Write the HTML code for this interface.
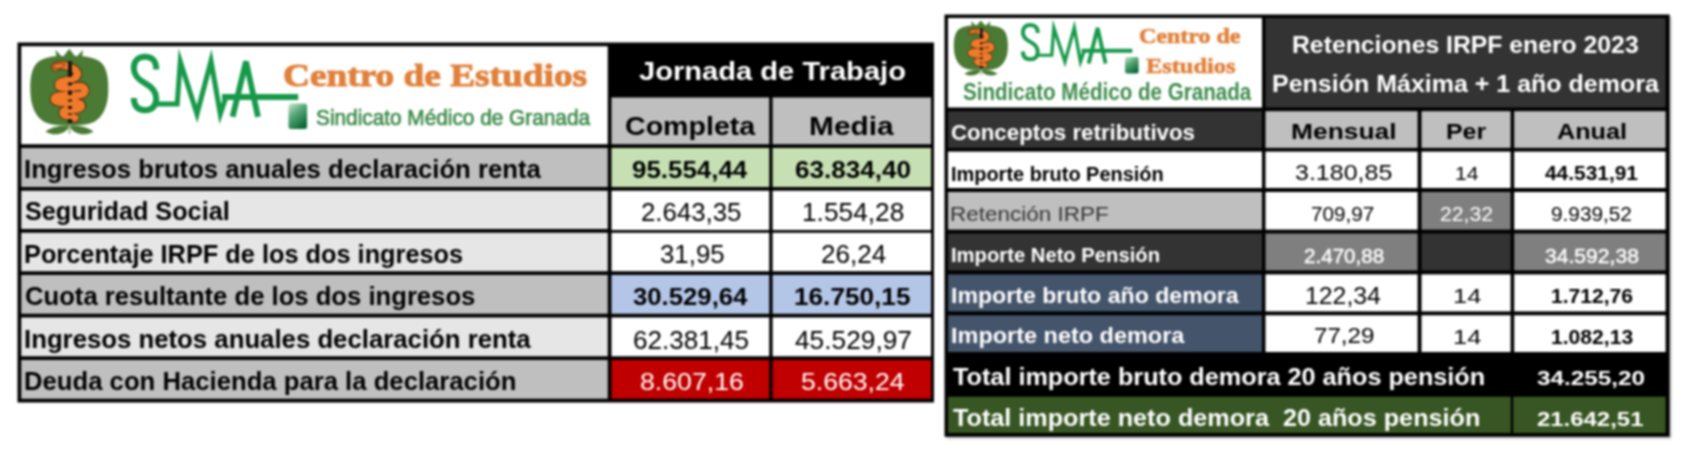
<!DOCTYPE html>
<html lang="es"><head><meta charset="utf-8"><title>Tablas SMA</title>
<style>
html,body{margin:0;padding:0;background:#fff}
body{width:1684px;height:450px;position:relative;overflow:hidden;font-family:"Liberation Sans",sans-serif}
#pg{position:absolute;left:0;top:0;width:1684px;height:450px;filter:blur(0.8px)}
.r{position:absolute}
.t{position:absolute;white-space:pre;line-height:1;transform-origin:0 0;display:block}
svg{position:absolute;left:0;top:0}
</style></head><body><div id="pg">
<svg width="1684" height="450" viewBox="0 0 1684 450">
<defs>
<linearGradient id="bk" x1="0" y1="0" x2="0.6" y2="1">
<stop offset="0" stop-color="#cfe6d6"/><stop offset="0.45" stop-color="#5aa878"/><stop offset="1" stop-color="#0d6a38"/>
</linearGradient>
<g id="pom">
<path d="M69 56.6 C80 55.2 93 56.5 100.5 62 C107.5 68 108.6 80 108.2 92 C107.8 106 103 117 94 122 C86 126 76 125.2 69 125 C62 125.2 52 126 44.5 122 C35.5 117 30.8 106 30.4 92 C30 80 31 68 38 62 C45.5 56.5 58 55.2 69 56.6 Z" fill="#4a7a34"/>
<path d="M55.5 49.8 L62.5 57.5 L69.3 48.8 L76 57.5 L83 49.8 L81.5 62 L57 62 Z" fill="#4a7a34"/>
<path d="M68.5 125 C64 125.5 54 125.5 45.5 131.5 C53 136.5 64 134.5 68.5 128 Z" fill="#4a7a34"/>
<path d="M70.5 125 C75 125.5 85 125.5 93.5 131.5 C86 136.5 75 134.5 70.5 128 Z" fill="#4a7a34"/>
<path d="M69.5 124 L69.5 134" stroke="#6d9a58" stroke-width="1.2"/>
<path d="M70 61.3 L70 123" stroke="#151515" stroke-width="4.2"/>
<g fill="none" stroke-linecap="round" stroke-linejoin="round">
<path d="M55.5 66.8 C60 64 68 65 74 69 C79 72.5 79 77 72 79 C66 81 59 81 58.5 85 C58.5 89 70 88 78 86.5 C85 85.5 87 91 83 94 C78 97.5 58 93 54.5 98 C52.5 102 62 103.5 72 102.5 C80 102 84 105 80 108 C75 111 64 108.5 63 112.5 C62.5 116 70 116 75 118" stroke="#3a1d08" stroke-width="9"/>
<path d="M55.5 66.8 C60 64 68 65 74 69 C79 72.5 79 77 72 79 C66 81 59 81 58.5 85 C58.5 89 70 88 78 86.5 C85 85.5 87 91 83 94 C78 97.5 58 93 54.5 98 C52.5 102 62 103.5 72 102.5 C80 102 84 105 80 108 C75 111 64 108.5 63 112.5 C62.5 116 70 116 75 118" stroke="#f07a2a" stroke-width="7.4"/>
</g>
<path d="M70 61.3 L70 77 M70 82.5 L70 85.5 M70 90.5 L70 95 M70 99.5 L70 101.5 M70 106 L70 109 M70 113.5 L70 115 M70 119 L70 123" stroke="#151515" stroke-width="3.8"/>
<path d="M52.8 67 C54.5 62.5 61 62.3 65 64.5 C62.5 69 56.5 70.3 52.8 67 Z" fill="#f07a2a" stroke="#3a1d08" stroke-width="0.8"/>
</g>
<g id="sma" fill="none" stroke="#17994a">
<path d="M156.2 69.5 C156.2 60.5 152 56.8 145 56.8 C138 56.8 133.8 61 133.8 68 C133.8 76 139 80 145.5 83.5 C152 87 156.2 91 156.2 98.5 C156.2 106 152 110.2 145 110.2 C138 110.2 133.8 106 133.8 98" stroke-width="6"/>
<path d="M154 104 L177.2 104 L180.3 61.5 L197 114 L211 61 L220.3 114 L226 97" stroke-width="5" stroke-linejoin="miter" stroke-miterlimit="8"/>
<path d="M232.6 116.8 L246 61.5 L258 116.8" stroke-width="5.8" stroke-linejoin="bevel"/>
<path d="M222 97 L298.2 97" stroke-width="6"/>
</g>
<filter id="sh" x="-5%" y="-5%" width="110%" height="110%"><feGaussianBlur stdDeviation="1.2"/></filter>
</defs>
<rect x="946.5" y="16.5" width="724.6" height="421.8" fill="#000" opacity="0.3" filter="url(#sh)"/>
<g id="cells">
<rect x="17.50" y="42.50" width="916.50" height="360.00" fill="#000"/>
<rect x="21.25" y="46.25" width="586.50" height="98.00" fill="#fff"/>
<rect x="611.50" y="97.50" width="157.70" height="46.75" fill="#bfbfbf"/>
<rect x="772.60" y="97.50" width="158.40" height="46.75" fill="#bfbfbf"/>
<rect x="21.25" y="148.00" width="586.50" height="39.00" fill="#bfbfbf"/>
<rect x="611.50" y="148.00" width="157.70" height="39.00" fill="#c6e0b4"/>
<rect x="772.60" y="148.00" width="158.40" height="39.00" fill="#c6e0b4"/>
<rect x="21.25" y="190.75" width="586.50" height="38.25" fill="#e7e6e6"/>
<rect x="611.50" y="190.75" width="157.70" height="39.25" fill="#fff"/>
<rect x="772.60" y="190.75" width="158.40" height="39.25" fill="#fff"/>
<rect x="21.25" y="232.75" width="586.50" height="38.50" fill="#e7e6e6"/>
<rect x="611.50" y="232.75" width="157.70" height="38.50" fill="#fff"/>
<rect x="772.60" y="232.75" width="158.40" height="38.50" fill="#fff"/>
<rect x="21.25" y="275.00" width="586.50" height="38.75" fill="#bfbfbf"/>
<rect x="611.50" y="275.00" width="157.70" height="38.75" fill="#b4c6e7"/>
<rect x="772.60" y="275.00" width="158.40" height="38.75" fill="#b4c6e7"/>
<rect x="21.25" y="317.50" width="586.50" height="38.75" fill="#e7e6e6"/>
<rect x="611.50" y="317.50" width="157.70" height="38.75" fill="#fff"/>
<rect x="772.60" y="317.50" width="158.40" height="38.75" fill="#fff"/>
<rect x="21.25" y="360.00" width="586.50" height="38.75" fill="#bfbfbf"/>
<rect x="611.50" y="360.00" width="157.70" height="38.75" fill="#c00000"/>
<rect x="772.60" y="360.00" width="158.40" height="38.75" fill="#c00000"/>
<rect x="944.50" y="14.50" width="725.10" height="422.25" fill="#000"/>
<rect x="948.00" y="18.00" width="314.00" height="89.50" fill="#fff"/>
<rect x="1265.50" y="18.00" width="400.10" height="89.50" fill="#333333"/>
<rect x="948.00" y="111.20" width="314.00" height="36.70" fill="#333333"/>
<rect x="1265.50" y="111.20" width="152.10" height="36.70" fill="#bfbfbf"/>
<rect x="1421.50" y="111.20" width="89.10" height="36.70" fill="#bfbfbf"/>
<rect x="1514.20" y="111.20" width="151.40" height="36.70" fill="#bfbfbf"/>
<rect x="948.00" y="151.60" width="314.00" height="36.40" fill="#fff"/>
<rect x="1265.50" y="151.60" width="152.10" height="36.40" fill="#fff"/>
<rect x="1421.50" y="151.60" width="89.10" height="36.40" fill="#fff"/>
<rect x="1514.20" y="151.60" width="151.40" height="36.40" fill="#fff"/>
<rect x="948.00" y="192.00" width="314.00" height="37.60" fill="#bfbfbf"/>
<rect x="1265.50" y="192.00" width="152.10" height="37.60" fill="#fff"/>
<rect x="1421.50" y="192.00" width="89.10" height="37.60" fill="#7f7f7f"/>
<rect x="1514.20" y="192.00" width="151.40" height="37.60" fill="#fff"/>
<rect x="948.00" y="233.50" width="314.00" height="36.90" fill="#333333"/>
<rect x="1265.50" y="233.50" width="152.10" height="36.90" fill="#7f7f7f"/>
<rect x="1421.50" y="233.50" width="89.10" height="36.90" fill="#333333"/>
<rect x="1514.20" y="233.50" width="151.40" height="36.90" fill="#7f7f7f"/>
<rect x="948.00" y="274.40" width="314.00" height="37.00" fill="#44546a"/>
<rect x="1265.50" y="274.40" width="152.10" height="37.00" fill="#fff"/>
<rect x="1421.50" y="274.40" width="89.10" height="37.00" fill="#fff"/>
<rect x="1514.20" y="274.40" width="151.40" height="37.00" fill="#fff"/>
<rect x="948.00" y="315.30" width="314.00" height="36.70" fill="#44546a"/>
<rect x="1265.50" y="315.30" width="152.10" height="36.70" fill="#fff"/>
<rect x="1421.50" y="315.30" width="89.10" height="36.70" fill="#fff"/>
<rect x="1514.20" y="315.30" width="151.40" height="36.70" fill="#fff"/>
<rect x="948.00" y="396.75" width="562.80" height="36.25" fill="#375623"/>
<rect x="1513.20" y="396.75" width="152.40" height="36.25" fill="#375623"/>
</g>
<!-- left logo -->
<use href="#pom"/>
<use href="#sma"/>
<rect x="288.5" y="103.5" width="18.6" height="25.5" rx="2.5" fill="url(#bk)"/>
<!-- right logo -->
<g transform="translate(953.9 20.6) scale(0.693 0.645) translate(-30.4 -49)"><use href="#pom"/></g>
<g transform="translate(1021 20.6) scale(0.666 0.642) translate(-131 -50)"><use href="#sma"/></g>
<rect x="1125" y="57" width="13.6" height="16.4" rx="2" fill="url(#bk)"/>
</svg>
<span class="t" style="left:24.28px;top:156.97px;font-size:25.43px;font-weight:bold;color:#000;transform:scaleX(1.0104)">Ingresos brutos anuales declaración renta</span>
<span class="t" style="left:24.51px;top:198.97px;font-size:25.43px;font-weight:bold;color:#000;transform:scaleX(0.9924)">Seguridad Social</span>
<span class="t" style="left:24.39px;top:241.97px;font-size:25.43px;font-weight:bold;color:#000;transform:scaleX(0.9964)">Porcentaje IRPF de los dos ingresos</span>
<span class="t" style="left:24.56px;top:283.97px;font-size:25.43px;font-weight:bold;color:#000;transform:scaleX(1.0088)">Cuota resultante de los dos ingresos</span>
<span class="t" style="left:24.27px;top:326.97px;font-size:25.43px;font-weight:bold;color:#000;transform:scaleX(1.0130)">Ingresos netos anuales declaración renta</span>
<span class="t" style="left:24.30px;top:369.47px;font-size:25.43px;font-weight:bold;color:#000;transform:scaleX(1.0102)">Deuda con Hacienda para la declaración</span>
<span class="t" style="left:638.85px;top:58.84px;font-size:25.00px;font-weight:bold;color:#fff;transform:scaleX(1.1645)">Jornada de Trabajo</span>
<span class="t" style="left:625.06px;top:113.84px;font-size:25.00px;font-weight:bold;color:#000;transform:scaleX(1.1431)">Completa</span>
<span class="t" style="left:809.23px;top:113.84px;font-size:25.00px;font-weight:bold;color:#000;transform:scaleX(1.1958)">Media</span>
<span class="t" style="left:632.41px;top:158.44px;font-size:24.29px;font-weight:bold;color:#000;transform:scaleX(1.0665)">95.554,44</span>
<span class="t" style="left:795.20px;top:158.44px;font-size:24.29px;font-weight:bold;color:#000;transform:scaleX(1.0741)">63.834,40</span>
<span class="t" style="left:641.36px;top:200.08px;font-size:25.07px;color:#000;transform:scaleX(1.0298)">2.643,35</span>
<span class="t" style="left:801.80px;top:200.08px;font-size:25.07px;color:#000;transform:scaleX(1.0481)">1.554,28</span>
<span class="t" style="left:659.81px;top:242.48px;font-size:25.07px;color:#000;transform:scaleX(1.0306)">31,95</span>
<span class="t" style="left:820.72px;top:242.48px;font-size:25.07px;color:#000;transform:scaleX(1.0387)">26,24</span>
<span class="t" style="left:633.05px;top:285.44px;font-size:24.29px;font-weight:bold;color:#000;transform:scaleX(1.0592)">30.529,64</span>
<span class="t" style="left:794.48px;top:285.44px;font-size:24.29px;font-weight:bold;color:#000;transform:scaleX(1.0783)">16.750,15</span>
<span class="t" style="left:632.62px;top:328.28px;font-size:25.07px;color:#000;transform:scaleX(1.0411)">62.381,45</span>
<span class="t" style="left:794.64px;top:328.28px;font-size:25.07px;color:#000;transform:scaleX(1.0490)">45.529,97</span>
<span class="t" style="left:640.23px;top:370.14px;font-size:24.64px;color:#fff;transform:scaleX(1.0844)">8.607,16</span>
<span class="t" style="left:801.10px;top:370.14px;font-size:24.64px;color:#fff;transform:scaleX(1.0810)">5.663,24</span>
<span class="t" style="left:1292.34px;top:33.38px;font-size:24.00px;font-weight:bold;color:#fff;transform:scaleX(1.0313)">Retenciones IRPF enero 2023</span>
<span class="t" style="left:1272.28px;top:73.35px;font-size:23.57px;font-weight:bold;color:#fff;transform:scaleX(1.0608)">Pensión Máxima + 1 año demora</span>
<span class="t" style="left:951.25px;top:122.86px;font-size:21.43px;font-weight:bold;color:#fff;transform:scaleX(1.0407)">Conceptos retributivos</span>
<span class="t" style="left:950.73px;top:164.03px;font-size:20.29px;font-weight:bold;color:#000;transform:scaleX(0.9830)">Importe bruto Pensión</span>
<span class="t" style="left:950.49px;top:203.98px;font-size:20.58px;color:#333;transform:scaleX(1.0924)">Retención IRPF</span>
<span class="t" style="left:951.49px;top:245.34px;font-size:20.86px;font-weight:bold;color:#fff;transform:scaleX(0.9696)">Importe Neto Pensión</span>
<span class="t" style="left:950.74px;top:285.76px;font-size:21.43px;font-weight:bold;color:#fff;transform:scaleX(1.0790)">Importe bruto año demora</span>
<span class="t" style="left:950.65px;top:326.16px;font-size:21.43px;font-weight:bold;color:#fff;transform:scaleX(1.0952)">Importe neto demora</span>
<span class="t" style="left:952.67px;top:365.40px;font-size:23.86px;font-weight:bold;color:#fff;transform:scaleX(1.0573)">Total importe bruto demora 20 años pensión</span>
<span class="t" style="left:952.64px;top:407.47px;font-size:23.43px;font-weight:bold;color:#fff;transform:scaleX(1.0757)">Total importe neto demora  20 años pensión</span>
<span class="t" style="left:1291.14px;top:120.51px;font-size:22.14px;font-weight:bold;color:#000;transform:scaleX(1.1920)">Mensual</span>
<span class="t" style="left:1445.53px;top:120.51px;font-size:22.14px;font-weight:bold;color:#000;transform:scaleX(1.1258)">Per</span>
<span class="t" style="left:1556.99px;top:120.51px;font-size:22.14px;font-weight:bold;color:#000;transform:scaleX(1.1400)">Anual</span>
<span class="t" style="left:1294.56px;top:161.60px;font-size:21.74px;color:#000;transform:scaleX(1.1504)">3.180,85</span>
<span class="t" style="left:1454.71px;top:165.73px;font-size:17.68px;color:#000;transform:scaleX(1.1972)">14</span>
<span class="t" style="left:1544.79px;top:163.55px;font-size:19.43px;font-weight:bold;color:#000;transform:scaleX(1.0753)">44.531,91</span>
<span class="t" style="left:1310.72px;top:203.83px;font-size:20.58px;color:#000;transform:scaleX(1.0060)">709,97</span>
<span class="t" style="left:1439.75px;top:204.32px;font-size:20.00px;color:#fff;transform:scaleX(1.0584)">22,32</span>
<span class="t" style="left:1551.11px;top:203.83px;font-size:20.58px;color:#000;transform:scaleX(1.0103)">9.939,52</span>
<span class="t" style="left:1303.50px;top:245.57px;font-size:20.00px;color:#fff;-webkit-text-stroke:0.45px #fff;transform:scaleX(1.0306)">2.470,88</span>
<span class="t" style="left:1545.26px;top:245.57px;font-size:20.00px;color:#fff;-webkit-text-stroke:0.45px #fff;transform:scaleX(1.0552)">34.592,38</span>
<span class="t" style="left:1304.59px;top:284.36px;font-size:23.91px;color:#000;transform:scaleX(1.0381)">122,34</span>
<span class="t" style="left:1453.48px;top:286.46px;font-size:20.72px;color:#000;transform:scaleX(1.2275)">14</span>
<span class="t" style="left:1550.72px;top:285.71px;font-size:20.43px;font-weight:bold;color:#000;transform:scaleX(1.0320)">1.712,76</span>
<span class="t" style="left:1314.01px;top:324.49px;font-size:22.75px;color:#000;transform:scaleX(1.0613)">77,29</span>
<span class="t" style="left:1453.48px;top:327.21px;font-size:20.72px;color:#000;transform:scaleX(1.2275)">14</span>
<span class="t" style="left:1550.72px;top:327.46px;font-size:20.43px;font-weight:bold;color:#000;transform:scaleX(1.0335)">1.082,13</span>
<span class="t" style="left:1537.34px;top:369.42px;font-size:19.29px;font-weight:bold;color:#fff;transform:scaleX(1.2592)">34.255,20</span>
<span class="t" style="left:1536.79px;top:409.97px;font-size:19.29px;font-weight:bold;color:#fff;transform:scaleX(1.2409)">21.642,51</span>
<span class="t" style="left:282.74px;top:59.28px;font-size:32.62px;font-weight:bold;font-family:'Liberation Serif',serif;color:#e0803a;-webkit-text-stroke:1px #e0803a;transform:scaleX(1.1442)">Centro de Estudios</span>
<span class="t" style="left:315.99px;top:105.74px;font-size:22.75px;color:#3d8b4a;-webkit-text-stroke:0.7px #3d8b4a;transform:scaleX(0.9144)">Sindicato Médico de Granada</span>
<span class="t" style="left:1139.31px;top:26.08px;font-size:20.92px;font-weight:bold;font-family:'Liberation Serif',serif;color:#e0803a;-webkit-text-stroke:0.6px #e0803a;transform:scaleX(1.1467)">Centro de</span>
<span class="t" style="left:1145.65px;top:54.98px;font-size:22.00px;font-weight:bold;font-family:'Liberation Serif',serif;color:#e0803a;-webkit-text-stroke:0.6px #e0803a;transform:scaleX(1.1074)">Estudios</span>
<span class="t" style="left:962.62px;top:79.64px;font-size:24.29px;font-weight:bold;color:#3d8b4a;transform:scaleX(0.8477)">Sindicato Médico de Granada</span>
</div></body></html>
